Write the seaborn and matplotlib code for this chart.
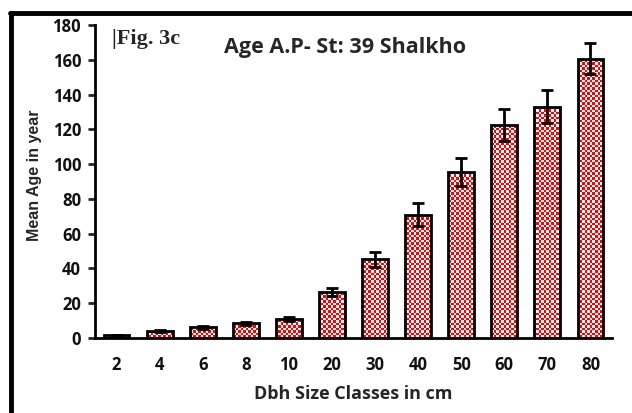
import matplotlib
matplotlib.use("Agg")
import matplotlib.pyplot as plt
from matplotlib.lines import Line2D
from matplotlib.colors import ListedColormap
import numpy as np
import pandas as pd
import seaborn as sns

# values
dbh_classes = ["2", "4", "6", "8", "10", "20", "30", "40", "50", "60", "70", "80"]
mean_age = [1.5, 4.0, 6.2, 8.4, 11.0, 26.3, 45.4, 71.0, 95.6, 122.4, 133.0, 160.7]
age_err = [0.4, 0.6, 0.8, 1.0, 1.2, 2.3, 4.3, 6.5, 8.0, 9.3, 9.5, 8.7]

df = pd.DataFrame({"dbh": dbh_classes, "age": mean_age, "err": age_err})

sns.set_style("white")
plt.rcParams["font.family"] = ["Open Sans", "DejaVu Sans"]

fig = plt.figure(figsize=(6.32, 4.13), dpi=100)
ax = fig.add_axes([95 / 632, 1 - 338 / 413, 517 / 632, 313 / 413])

sns.barplot(data=df, x="dbh", y="age", color="red", saturation=1, width=0.6,
            errorbar=None, ax=ax, linewidth=0)

# checkerboard texture (about 2.5 px squares) clipped to every bar
nx, ny = int(517 / 2.5), int(313 / 2.5)
checker = (np.add.outer(np.arange(ny), np.arange(nx)) % 2).astype(float)
bars = list(ax.patches)
for p in bars:
    im = ax.imshow(checker, extent=(-0.5, len(df) - 0.5, 0, 180), aspect="auto",
                   interpolation="nearest", cmap=ListedColormap(["white", "red"]),
                   origin="lower", zorder=1.5)
    im.set_clip_path(p)

# black outline on top
sns.barplot(data=df, x="dbh", y="age", fill=False, width=0.6, errorbar=None,
            ax=ax, linewidth=2, edgecolor="black", zorder=2)

ax.errorbar(x=np.arange(len(df)), y=df["age"], yerr=df["err"], fmt="none",
            ecolor="black", elinewidth=2, capsize=4, capthick=2, zorder=3)

ax.set_xlim(-0.5, len(df) - 0.5)
ax.set_ylim(0, 180)
ax.set_yticks(range(0, 181, 20))
for s in ["top", "right"]:
    ax.spines[s].set_visible(False)
for s in ["left", "bottom"]:
    ax.spines[s].set_linewidth(2)
    ax.spines[s].set_color("black")
    ax.spines[s].set_zorder(4)
ax.tick_params(axis="y", direction="out", length=5, width=2, left=True, pad=5)
ax.tick_params(axis="x", length=0, pad=13)
for lbl in ax.get_xticklabels() + ax.get_yticklabels():
    lbl.set_fontsize(12)
    lbl.set_fontweight("bold")
    lbl.set_color("#111111")

ax.set_xlabel("Dbh Size Classes in cm", fontsize=13, fontweight="bold", labelpad=8)
ax.set_ylabel("Mean Age in year", fontsize=11.5, fontweight="bold",
              family=["Liberation Sans"])
ax.yaxis.set_label_coords(-0.103, 0.52)

ax.text(0.033, 0.955, "|Fig. 3c", transform=ax.transAxes, fontsize=16,
        fontweight="bold", family=["Liberation Serif"], va="center", ha="left")
ax.text(0.4836, 0.928, "Age A.P- St: 39 Shalkho", transform=ax.transAxes,
        fontsize=15.5, fontweight="bold", va="center", ha="center")

# frame of the original panel (top and left edges)
fig.add_artist(Line2D([11 / 632, 11 / 632], [0, 1 - 13 / 413], color="black", lw=3.5))
fig.add_artist(Line2D([9.5 / 632, 1], [1 - 13 / 413, 1 - 13 / 413], color="black", lw=3.5))

fig.savefig("out.png", dpi=100)
